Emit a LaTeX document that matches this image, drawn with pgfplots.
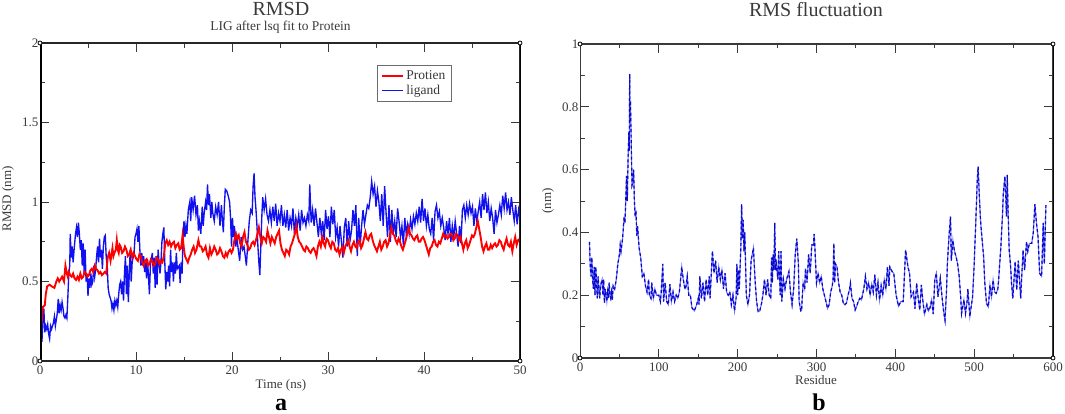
\documentclass[border=0pt]{standalone}
\usepackage{fontspec}
\setmainfont{Liberation Serif}
\usepackage{pgfplots}
\usepackage{pgfplotstable}
\pgfplotsset{compat=1.18}
\definecolor{txt}{HTML}{3A3A3A}
\definecolor{lineblue}{HTML}{1010F0}
\definecolor{lightblue}{HTML}{7070FF}
\definecolor{darkblue}{HTML}{0808C8}

\pgfplotstableread{
t v
0 .15
.1 .2
.2 .12
.3 .25
.4 .33
.5 .18
.6 .22
.7 .2
.8 .23
.9 .17
1.0 .14
1.1 .22
1.2 .2
1.4 .24
1.5 .28
1.6 .22
1.8 .3
1.9 .39
2.0 .3
2.1 .35
2.2 .32
2.3 .37
2.4 .33
2.5 .28
2.6 .27
2.7 .29
2.8 .27
2.9 .4
3.0 .55
3.1 .6
3.15 .8
3.25 .65
3.35 .72
3.45 .62
3.55 .7
3.7 .8
3.8 .84
3.9 .78
4.0 .87
4.1 .8
4.2 .7
4.3 .76
4.4 .6
4.5 .74
4.6 .55
4.7 .7
4.8 .5
4.9 .55
5.0 .41
5.1 .52
5.2 .46
5.3 .55
5.4 .48
5.5 .5
5.6 .6
5.7 .53
5.8 .58
5.9 .66
6.0 .72
6.1 .62
6.2 .77
6.3 .65
6.4 .7
6.5 .58
6.6 .72
6.7 .78
6.8 .79
6.9 .65
7.0 .6
7.1 .46
7.2 .42
7.3 .4
7.4 .38
7.5 .33
7.6 .36
7.7 .32
7.8 .38
7.9 .35
8 .38
8.1 .34
8.2 .42
8.3 .48
8.4 .5
8.5 .42
8.6 .5
8.7 .38
8.8 .55
8.9 .66
9.0 .42
9.1 .6
9.2 .37
9.3 .55
9.4 .7
9.5 .5
9.6 .62
9.8 .68
9.9 .78
10 .8
10.1 .83
10.2 .75
10.3 .85
10.4 .7
10.5 .6
10.6 .68
10.7 .6
10.8 .66
10.9 .56
11 .62
11.1 .52
11.2 .64
11.4 .42
11.5 .6
11.7 .68
11.8 .55
11.9 .65
12 .46
12.1 .66
12.2 .48
12.3 .7
12.5 .55
12.6 .62
12.7 .75
12.8 .8
12.9 .84
13 .62
13.1 .45
13.2 .56
13.3 .5
13.4 .6
13.5 .47
13.6 .7
13.7 .56
13.8 .62
13.9 .5
14 .62
14.1 .55
14.2 .68
14.3 .58
14.5 .6
14.6 .49
14.7 .62
14.8 .55
14.9 .78
15 .88
15.1 .78
15.2 .85
15.3 .8
15.45 .95
15.6 1.0
15.7 .88
15.8 1.03
15.95 .95
16.1 1.04
16.25 .92
16.4 .98
16.5 .82
16.6 .88
16.75 .8
16.9 .97
17 .85
17.1 .93
17.25 1.0
17.35 .95
17.45 1.11
17.55 .98
17.65 1.05
17.8 .9
17.9 1.0
18 .93
18.15 .88
18.3 .97
18.45 .92
18.6 1.0
18.75 .85
18.9 .98
19 .88
19.1 .81
19.2 .97
19.3 1.08
19.45 1.07
19.6 1.04
19.75 1.0
19.85 .9
19.95 .72
20.05 .9
20.15 .78
20.25 .85
20.4 .72
20.5 .78
20.65 .7
20.8 .63
20.95 .78
21.1 .7
21.25 .72
21.4 .65
21.5 .6
21.65 .75
21.8 .88
21.95 .95
22.1 .93
22.2 1.1
22.3 1.18
22.4 1.03
22.5 .95
22.6 .85
22.7 .72
22.8 .62
22.9 .54
23.0 .72
23.1 .9
23.2 1.03
23.35 .95
23.5 1.02
23.65 .92
23.8 .88
23.95 .95
24.1 .87
24.25 .97
24.4 .88
24.55 .99
24.7 .85
24.85 .93
25 .88
25.15 .98
25.3 .85
25.45 .92
25.6 .84
25.75 .95
25.9 .82
26.05 .9
26.2 .85
26.35 .96
26.5 .8
26.65 .9
26.8 .85
26.95 .92
27.1 .82
27.25 .95
27.4 .87
27.55 .9
27.7 .85
27.85 .92
28 .88
28.1 1.11
28.25 .87
28.4 .95
28.55 .85
28.7 .96
28.85 .87
29 .78
29.15 .9
29.3 .8
29.45 .88
29.6 .76
29.75 .95
29.9 .83
30.05 .91
30.2 .78
30.35 .97
30.5 .86
30.65 .95
30.8 .78
30.95 .84
31.1 .72
31.25 .85
31.4 .75
31.55 .65
31.7 .84
31.85 .9
32 .72
32.15 .88
32.3 .76
32.45 .82
32.6 .95
32.75 .85
32.9 .98
33.05 .66
33.2 .9
33.35 .72
33.5 .85
33.65 .95
33.8 .86
33.95 .92
34.1 .98
34.25 .96
34.4 1.03
34.55 1.13
34.7 1.05
34.85 1.1
35 .97
35.15 1.07
35.3 1.0
35.45 .88
35.6 1.05
35.75 .85
35.9 1.1
36.05 .93
36.2 .78
36.35 .98
36.5 .75
36.65 .95
36.8 .8
36.95 .88
37.1 .78
37.25 .96
37.4 .88
37.55 .78
37.7 .85
37.85 .73
38 .9
38.15 .8
38.3 .86
38.45 .8
38.6 .89
38.75 .83
38.9 .91
39.05 .86
39.2 .93
39.35 .88
39.5 .97
39.65 .87
39.8 1.02
39.95 .88
40.1 .96
40.25 .85
40.4 .92
40.55 .83
40.7 .8
40.85 .9
41 .76
41.15 .94
41.3 .98
41.45 .9
41.6 .94
41.75 .85
41.9 .9
42.05 .84
42.2 .76
42.35 .88
42.5 .8
42.65 .9
42.8 .75
42.95 .85
43.1 .78
43.25 .88
43.4 .8
43.55 .72
43.7 .85
43.85 .74
44 .95
44.15 .98
44.3 .9
44.45 .98
44.6 .92
44.75 .99
44.9 .93
45.05 .97
45.2 .85
45.35 .96
45.5 .88
45.65 .94
45.8 1.0
45.95 .9
46.1 1.05
46.25 .95
46.4 1.06
46.55 .93
46.7 1.0
46.85 .88
47 .96
47.15 .9
47.3 .8
47.45 .95
47.6 .87
47.75 .92
47.9 .98
48.05 .92
48.2 1.04
48.35 .96
48.5 1.06
48.65 .95
48.8 1.0
48.95 .92
49.1 1.03
49.25 .95
49.4 .88
49.55 .98
49.7 .86
49.85 .95
50 .9
}\ligandtable

\pgfplotstableread{
t v
0 .22
.1 .3
.2 .27
.3 .34
.5 .35
.6 .42
.75 .47
1.0 .48
1.2 .47
1.5 .46
1.7 .5
1.85 .52
2.0 .5
2.1 .51
2.3 .53
2.5 .5
2.65 .6
2.8 .55
2.9 .53
3.0 .56
3.15 .54
3.3 .53
3.45 .55
3.6 .52
3.75 .51
3.9 .53
4.05 .51
4.2 .55
4.35 .52
4.5 .53
4.65 .56
4.8 .55
4.95 .53
5.1 .54
5.25 .57
5.4 .58
5.55 .56
5.7 .6
5.85 .58
6.0 .57
6.15 .55
6.3 .56
6.45 .54
6.6 .55
6.75 .56
6.9 .55
7.05 .65
7.2 .68
7.35 .63
7.55 .71
7.65 .66
7.75 .68
7.9 .7
8.0 .76
8.1 .7
8.2 .68
8.3 .73
8.4 .72
8.55 .68
8.7 .69
8.85 .72
9 .7
9.15 .66
9.3 .67
9.45 .7
9.6 .65
9.75 .68
9.9 .66
10.05 .64
10.2 .63
10.35 .67
10.5 .66
10.65 .62
10.8 .6
10.95 .63
11.1 .64
11.25 .6
11.4 .61
11.55 .64
11.7 .63
11.85 .6
12 .61
12.15 .65
12.3 .64
12.45 .61
12.6 .63
12.75 .62
12.9 .66
13.05 .74
13.2 .76
13.35 .73
13.5 .75
13.65 .72
13.8 .74
13.95 .75
14.1 .71
14.25 .73
14.4 .74
14.55 .7
14.7 .71
14.85 .79
15 .7
15.1 .66
15.25 .64
15.4 .62
15.55 .65
15.7 .67
15.85 .7
16 .72
16.15 .68
16.3 .7
16.4 .73
16.5 .76
16.65 .72
16.8 .72
16.95 .69
17.1 .7
17.25 .72
17.4 .67
17.55 .65
17.7 .71
17.85 .67
18 .69
18.15 .72
18.3 .7
18.45 .67
18.6 .68
18.75 .71
18.9 .69
19.05 .66
19.2 .65
19.35 .68
19.5 .66
19.65 .69
19.8 .7
19.95 .68
20.1 .7
20.25 .76
20.4 .8
20.55 .77
20.7 .79
20.85 .74
21 .72
21.15 .78
21.3 .81
21.45 .75
21.6 .73
21.75 .7
21.9 .71
22.05 .74
22.2 .75
22.35 .73
22.5 .76
22.65 .8
22.8 .84
22.95 .78
23.1 .74
23.25 .78
23.4 .77
23.55 .75
23.7 .82
23.85 .78
24 .74
24.15 .78
24.3 .76
24.45 .74
24.6 .78
24.75 .8
24.9 .82
25.05 .74
25.2 .7
25.35 .68
25.5 .66
25.65 .7
25.8 .69
25.95 .67
26.1 .72
26.25 .74
26.4 .77
26.55 .8
26.7 .85
26.85 .78
27 .75
27.15 .74
27.3 .72
27.45 .7
27.6 .69
27.75 .72
27.9 .71
28.05 .69
28.2 .68
28.35 .7
28.5 .71
28.65 .69
28.8 .66
28.95 .72
29.1 .75
29.25 .72
29.4 .78
29.55 .74
29.7 .72
29.85 .77
30 .76
30.15 .73
30.3 .71
30.45 .75
30.6 .74
30.75 .7
30.9 .69
31.05 .71
31.2 .67
31.35 .7
31.5 .72
31.65 .68
31.8 .72
31.95 .74
32.1 .76
32.25 .72
32.4 .69
32.55 .73
32.7 .75
32.85 .72
33 .71
33.15 .75
33.3 .76
33.45 .71
33.6 .73
33.75 .77
33.9 .81
34.05 .77
34.2 .76
34.35 .79
34.5 .8
34.65 .76
34.8 .73
34.95 .71
35.1 .69
35.25 .72
35.4 .75
35.55 .7
35.7 .72
35.85 .75
36 .76
36.15 .72
36.3 .74
36.45 .79
36.6 .84
36.75 .8
36.9 .79
37.05 .76
37.2 .74
37.35 .77
37.5 .75
37.65 .72
37.8 .7
37.95 .73
38.1 .76
38.25 .8
38.4 .84
38.55 .8
38.7 .79
38.85 .77
39 .76
39.15 .78
39.3 .79
39.45 .75
39.6 .75
39.75 .77
39.9 .78
40.05 .76
40.2 .73
40.35 .7
40.5 .67
40.65 .71
40.8 .72
40.95 .75
41.1 .76
41.25 .73
41.4 .72
41.55 .75
41.7 .74
41.85 .77
42 .8
42.15 .78
42.3 .79
42.45 .77
42.6 .78
42.75 .8
42.9 .8
43.05 .76
43.2 .77
43.35 .8
43.5 .79
43.65 .76
43.8 .78
43.95 .74
44.1 .7
44.25 .74
44.4 .76
44.55 .71
44.7 .73
44.85 .76
45 .79
45.15 .78
45.3 .8
45.45 .84
45.6 .88
45.75 .83
45.9 .78
46.05 .72
46.2 .69
46.35 .72
46.5 .74
46.65 .7
46.8 .7
46.95 .73
47.1 .71
47.25 .73
47.4 .74
47.55 .72
47.7 .73
47.85 .76
48 .75
48.15 .72
48.3 .7
48.45 .74
48.6 .77
48.75 .73
48.9 .72
49.05 .75
49.2 .69
49.35 .74
49.5 .78
49.65 .73
49.8 .76
50 .77
}\proteintable

\pgfplotstableread{
r v
12 .37
13 .29
14 .26
15 .32
16 .25
17 .22
18 .29
19 .2
20 .29
21 .24
22 .19
23 .26
24 .22
25 .19
26 .23
27 .24
28 .25
29 .2
30 .25
31 .175
32 .22
33 .2
34 .18
35 .21
36 .19
37 .24
38 .2
39 .19
40 .21
41 .185
42 .23
44 .22
46 .25
48 .3
50 .33
51 .36
52 .34
54 .38
56 .45
57 .43
58 .5
59 .58
60 .5
61 .64
62 .72
62.5 .66
63 .905
63.5 .75
64 .82
65 .68
66 .55
67 .56
68 .6
69 .5
70 .45
71 .47
72 .39
73 .42
75 .35
77 .32
79 .26
81 .27
83 .23
85 .21
87 .25
88 .2
90 .19
91 .24
93 .19
95 .22
97 .2
100 .2
102 .18
103 .21
105 .3
106 .18
108 .24
110 .18
112 .17
114 .235
116 .18
118 .21
120 .18
122 .2
124 .19
126 .21
128 .26
129 .29
131 .25
133 .22
134 .22
136 .26
138 .2
140 .2
142 .16
145 .15
148 .17
150 .19
151 .17
152 .26
154 .19
156 .24
158 .18
160 .25
162 .2
164 .26
165 .19
167 .295
168 .34
170 .27
172 .31
174 .24
176 .29
178 .25
180 .28
182 .22
184 .27
186 .21
188 .2
190 .21
192 .17
194 .2
196 .15
198 .19
199 .3
200 .2
201 .28
202 .22
204 .35
205 .49
206 .38
207 .44
208 .34
209 .4
210 .3
211 .2
213 .17
215 .2
217 .31
220 .35
222 .25
224 .18
226 .147
228 .15
230 .17
232 .2
234 .25
236 .2
238 .25
240 .2
242 .19
243 .32
244 .24
245 .33
246 .28
247 .43
248 .28
249 .3
251 .25
252 .34
254 .2
255 .34
256 .18
258 .25
260 .22
262 .25
265 .275
267 .21
269 .17
271 .22
273 .33
275 .38
277 .3
278 .18
280 .15
281 .15
283 .24
285 .22
286 .285
288 .24
290 .33
292 .27
294 .36
296 .36
297 .395
298 .35
300 .24
302 .27
304 .24
306 .26
308 .22
310 .2
312 .18
314 .158
316 .17
318 .21
320 .23
321 .25
322 .365
323 .24
324 .3
326 .29
328 .24
330 .21
332 .2
334 .175
336 .17
338 .175
340 .2
342 .22
343 .238
345 .19
347 .18
349 .153
351 .165
353 .18
355 .19
357 .185
360 .22
362 .26
364 .22
366 .24
368 .2
370 .235
372 .21
374 .265
376 .2
378 .24
380 .185
382 .23
384 .2
386 .25
388 .22
390 .29
392 .23
393 .29
396 .275
398 .27
401 .2
404 .165
407 .18
410 .18
413 .344
416 .29
418 .27
420 .195
423 .21
425 .157
427 .238
429 .19
431 .153
433 .233
435 .18
437 .14
440 .17
442 .15
444 .16
446 .185
448 .14
450 .248
452 .27
454 .195
457 .254
459 .2
461 .153
463 .12
465 .22
466 .3
468 .386
470 .45
471 .31
473 .375
475 .34
477 .323
479 .3
481 .259
483 .19
484 .142
486 .17
487 .185
489 .142
491 .18
492 .22
494.5 .132
496 .16
498 .195
500 .3
502 .43
504 .57
505 .61
506.4 .525
508 .44
509 .408
511 .35
512 .323
513.5 .238
515.7 .174
518 .163
520 .232
522 .195
524 .248
526 .21
528 .206
530 .22
531 .248
534 .36
536 .46
537 .525
539 .578
541 .45
542 .583
543 .47
544.4 .344
546 .3
547.4 .238
549 .19
552 .307
554 .217
556 .31
559 .19
562 .344
564 .28
566.4 .37
568 .34
570 .365
573 .365
575 .4
577 .49
579 .43
581 .386
583 .27
585.5 .26
587.6 .43
589 .3
591 .487
}\rmsftable

\pgfplotsset{
  graceaxis/.style={
    scale only axis,
    axis line style={black},
    axis x line=box, axis y line=box,
    tick align=inside,
    xtick pos=both, ytick pos=both,
    major tick length=9pt,
    minor tick length=4.5pt,
    every tick/.style={color=txt,line width=0.9pt},
    minor tick num=1,
    ticklabel style={font=\fontsize{13}{15}\selectfont,text=txt,/pgf/number format/assume math mode=true},
    label style={font=\fontsize{13}{15}\selectfont,text=txt},
    title style={font=\fontsize{20}{22}\selectfont,text=txt},
    tick label style={inner sep=1.5pt},
    xticklabel style={yshift=-3.5pt},
  },
}
\begin{document}
\begin{tikzpicture}[x=1pt,y=1pt]
\path[use as bounding box] (0,0) rectangle (1065,413);

\begin{axis}[graceaxis,
  at={(40pt,52pt)},anchor=south west,width=480pt,height=318pt,
  xmin=0,xmax=50,ymin=0,ymax=2,
  xtick={0,10,20,30,40,50},xticklabels={0,10,20,30,40,50},
  ytick={0,0.5,1,1.5,2},yticklabels={0,0.5,1,1.5,2},
  title={RMSD},
  title style={at={(0.502,1)},anchor=base,yshift=21pt,inner sep=0pt},
  xlabel={Time (ns)},
  xlabel style={at={(0.502,0)},anchor=base,yshift=-27pt,inner sep=0pt},
  ylabel={RMSD (nm)},
  ylabel style={at={(0,0.51)},anchor=south,yshift=26pt,inner sep=0pt},
  legend image code/.code={\draw[#1] (0pt,0pt) -- (21pt,0pt);},
  legend style={at={(0.702,0.931)},anchor=north west,draw=gray!85!black,line width=0.8pt,
    font=\fontsize{13.5}{14}\selectfont,text=txt,inner xsep=4pt,inner ysep=3.5pt,row sep=-0.5pt,
    cells={anchor=west}},
  legend cell align=left,
]
\addplot[color=lineblue,line width=1.35pt,forget plot] table[x=t,y=v]{\ligandtable};
\addplot[color=red,line width=1.9pt] table[x=t,y=v]{\proteintable};
\addlegendentry{Protien}
\addlegendimage{color=lineblue,line width=1.1pt}
\addlegendentry{ligand}
\draw[line width=3pt,black] (rel axis cs:0,0)--(rel axis cs:0,1);
\draw[line width=2.4pt,black!85] (rel axis cs:0,0)--(rel axis cs:1,0);
\draw[line width=1.6pt,black!85] (rel axis cs:0,1)--(rel axis cs:1,1)--(rel axis cs:1,0);
\end{axis}

\begin{axis}[graceaxis,
  at={(580pt,55pt)},anchor=south west,width=473pt,height=314pt,
  xmin=0,xmax=600,ymin=0,ymax=1,
  xtick={0,100,200,300,400,500,600},xticklabels={0,100,200,300,400,500,600},
  ytick={0,0.2,0.4,0.6,0.8,1},yticklabels={0,0.2,0.4,0.6,0.8,1},
  title={RMS fluctuation},
  title style={at={(0.499,1)},anchor=base,yshift=21pt,inner sep=0pt},
  xlabel={Residue},
  xlabel style={at={(0.499,0)},anchor=base,yshift=-26pt,inner sep=0pt},
  ylabel={(nm)},
  ylabel style={at={(0,0.5)},anchor=south,yshift=26pt,inner sep=0pt},
]
\addplot[color=lightblue,line width=1.1pt] table[x=r,y=v]{\rmsftable};
\addplot[color=darkblue,line width=1.2pt,dash pattern=on 3pt off 2.5pt] table[x=r,y=v]{\rmsftable};
\draw[line width=2.6pt,txt] (rel axis cs:0,0)--(rel axis cs:0,1);
\draw[line width=2.2pt,txt] (rel axis cs:0,0)--(rel axis cs:1,0);
\draw[line width=1.5pt,txt] (rel axis cs:0,1)--(rel axis cs:1,1)--(rel axis cs:1,0);
\end{axis}

\path[draw=black,fill=white,line width=0.8pt] (40,52) circle (2pt) (40,370) circle (2pt) (520,52) circle (2pt) (520,370) circle (2pt);
\path[draw=black,fill=white,line width=0.8pt] (580,55) circle (2pt) (580,369) circle (2pt) (1053,55) circle (2pt) (1053,369) circle (2pt);

\node[font=\fontsize{13.4}{15}\selectfont,text=txt,anchor=base,inner sep=0pt] at (280.5,382) {LIG after lsq fit to Protein};
\node[font=\bfseries\fontsize{24}{26}\selectfont,anchor=base,inner sep=0pt] at (281,3) {a};
\node[font=\bfseries\fontsize{24}{26}\selectfont,anchor=base,inner sep=0pt] at (819,3) {b};
\end{tikzpicture}
\end{document}
